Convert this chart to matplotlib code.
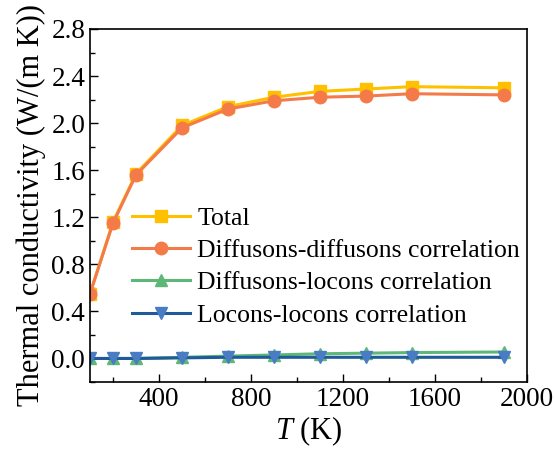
import matplotlib
matplotlib.use("Agg")
import matplotlib.pyplot as plt
from matplotlib.ticker import MultipleLocator

T = [100, 200, 300, 500, 700, 900, 1100, 1300, 1500, 1900]
total = [0.55, 1.16, 1.57, 1.98, 2.14, 2.22, 2.27, 2.29, 2.31, 2.30]
diff_diff = [0.55, 1.15, 1.56, 1.96, 2.12, 2.19, 2.22, 2.23, 2.25, 2.24]
diff_loc = [0.0, 0.0, 0.0, 0.01, 0.02, 0.03, 0.04, 0.045, 0.05, 0.055]
loc_loc = [0.0, 0.0, 0.0, 0.005, 0.01, 0.01, 0.01, 0.01, 0.01, 0.01]

plt.rcParams['font.family'] = ['Liberation Serif', 'DejaVu Serif']
plt.rcParams['mathtext.fontset'] = 'custom'
plt.rcParams['mathtext.it'] = 'Liberation Serif:italic'
plt.rcParams['mathtext.rm'] = 'Liberation Serif'

fig = plt.figure(figsize=(5.54, 4.49), dpi=100)
ax = fig.add_axes([90/554, 1-382/449, (527-90)/554, (382-29)/449])

ax.plot(T, total, color='#FFC000', marker='s', ms=8, lw=2.2, label='Total')
ax.plot(T, diff_diff, color='#F47A4A', marker='o', ms=9, lw=2.2, label='Diffusons-diffusons correlation')
ax.plot(T, diff_loc, color='#5DB878', marker='^', ms=9, lw=2.2, label='Diffusons-locons correlation')
ax.plot(T, loc_loc, color='#1F5A9A', marker='v', ms=9, lw=2.2, mfc='#4A7CC4', mec='#4A7CC4', label='Locons-locons correlation')

ax.set_xlim(100, 2000)
ax.set_ylim(-0.2, 2.8)
ax.xaxis.set_minor_locator(MultipleLocator(200))
ax.yaxis.set_major_locator(MultipleLocator(0.4))
ax.yaxis.set_minor_locator(MultipleLocator(0.2))
ax.set_xticks([400, 800, 1200, 1600, 2000])
ax.yaxis.set_major_formatter(matplotlib.ticker.FormatStrFormatter('%.1f'))
ax.tick_params(which='both', direction='in', labelsize=19.5, top=False, right=False)
ax.tick_params(which='major', length=6, width=1)
ax.tick_params(which='minor', length=3.5, width=1)
for s in ax.spines.values():
    s.set_linewidth(1.2)

ax.set_xlabel('$T$ (K)', fontsize=22, labelpad=2)
ax.set_ylabel('Thermal conductivity (W/(m K))', fontsize=22, labelpad=4)

ax.legend(loc='upper left', bbox_to_anchor=(0.096, 0.496), frameon=False, fontsize=18.5,
          handlelength=2.25, labelspacing=0.36, handletextpad=0.3, borderaxespad=0, borderpad=0)

fig.savefig('out.png', dpi=100)
